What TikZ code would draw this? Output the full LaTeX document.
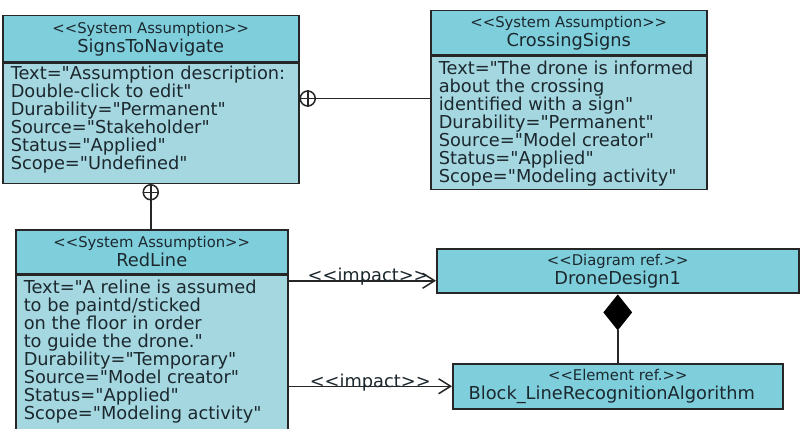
\documentclass[tikz,border=0pt]{standalone}
\usepackage{fontspec}
\setmainfont{DejaVu Sans}[Ligatures=TeXOff]
\usepackage{tikz}
\usetikzlibrary{shapes.geometric, arrows.meta, positioning}
\definecolor{umlhead}{RGB}{127,206,220}
\definecolor{umlbody}{RGB}{165,215,225}
\definecolor{umlink}{RGB}{28,40,46}
\newcommand{\stereotype}[1]{{\fontsize{14.8}{16}\selectfont <<#1>>}}

\begin{document}
\begin{tikzpicture}[x=1pt, y=-1pt, font=\fontsize{17.8}{19}\selectfont, line width=1.5pt, text=umlink,
    hdr/.style={draw=black!85, fill=umlhead, anchor=north west, align=center, inner sep=0pt},
    bodybox/.style={draw=black!85, fill=umlbody, anchor=north west, inner sep=0pt},
    attr/.style={anchor=north west, align=left, inner sep=0pt, font=\fontsize{17.8}{18}\selectfont},
    ownc/.style={circle, draw=black!85, fill=white, inner sep=0pt, minimum size=15pt},
    impact/.style={draw=black!85, -{Straight Barb[length=12pt, width=15pt]}}]
    \useasboundingbox (0,0) rectangle (802,428);
    \clip (0,0) rectangle (802,428);

    % SignsToNavigate
    \node[hdr, minimum width=296pt, minimum height=46pt] (signsHead) at (2,15)
        {\stereotype{System Assumption}\\SignsToNavigate};
    \node[bodybox, minimum width=296pt, minimum height=120pt] (signsBody) at (signsHead.south west) {};
    \node[attr] (signsText) at ([xshift=8pt, yshift=-3pt]signsBody.north west)
        {Text="Assumption description:\\Double-click to edit"\\Durability="Permanent"\\Source="Stakeholder"\\Status="Applied"\\Scope="Undefined"};

    % CrossingSigns
    \node[hdr, minimum width=276pt, minimum height=44pt] (crossHead) at (430,10)
        {\stereotype{System Assumption}\\CrossingSigns};
    \node[bodybox, minimum width=276pt, minimum height=133pt] (crossBody) at (crossHead.south west) {};
    \node[attr] (crossText) at ([xshift=8pt, yshift=-5pt]crossBody.north west)
        {Text="The drone is informed\\about the crossing\\identified with a sign"\\Durability="Permanent"\\Source="Model creator"\\Status="Applied"\\Scope="Modeling activity"};

    % RedLine
    \node[hdr, minimum width=272pt, minimum height=44pt] (redHead) at (15,229)
        {\stereotype{System Assumption}\\RedLine};
    \node[bodybox, minimum width=272pt, minimum height=170pt] (redBody) at (redHead.south west) {};
    \node[attr] (redText) at ([xshift=8pt, yshift=-5pt]redBody.north west)
        {Text="A reline is assumed\\to be paintd/sticked\\on the floor in order\\to guide the drone."\\Durability="Temporary"\\Source="Model creator"\\Status="Applied"\\Scope="Modeling activity"};

    % references
    \node[hdr, minimum width=362pt, minimum height=44pt] (droneHead) at (436,248)
        {\stereotype{Diagram ref.}\\DroneDesign1};
    \node[hdr, minimum width=330pt, minimum height=45pt] (blockHead) at (452,363)
        {\stereotype{Element ref.}\\Block\_LineRecognitionAlgorithm\hspace*{12pt}};

    % containment
    \node[ownc, anchor=west] (ownA) at ([yshift=-36pt]signsBody.north east) {};
    \draw[black!85] (ownA.north) -- (ownA.south) (ownA.west) -- (ownA.east);
    \draw[black!85] (ownA.east) -- (ownA.east -| crossBody.west);
    \node[ownc, anchor=north] (ownB) at (signsBody.south) {};
    \draw[black!85] (ownB.north) -- (ownB.south) (ownB.west) -- (ownB.east);
    \draw[black!85] (ownB.south) -- (ownB.south |- redHead.north);

    % composition
    \node[diamond, fill=black, draw=black, line width=0.8pt, inner sep=0pt, minimum width=28pt, minimum height=35pt, anchor=north] (compD) at ([yshift=-1pt]droneHead.south) {};
    \draw[black!85] (compD.south) -- (compD.south |- blockHead.north);

    % impact
    \coordinate (impactA) at ([yshift=-10pt]droneHead.west);
    \draw[impact] (redBody.east |- impactA) -- (impactA)
        node[pos=0.54, anchor=base, yshift=-1pt] (impLblA) {<<impact>>};
    \draw[impact] (redBody.east |- blockHead.west) -- (blockHead.west)
        node[midway, anchor=base, yshift=-1pt] (impLblB) {<<impact>>};
\end{tikzpicture}
\end{document}
